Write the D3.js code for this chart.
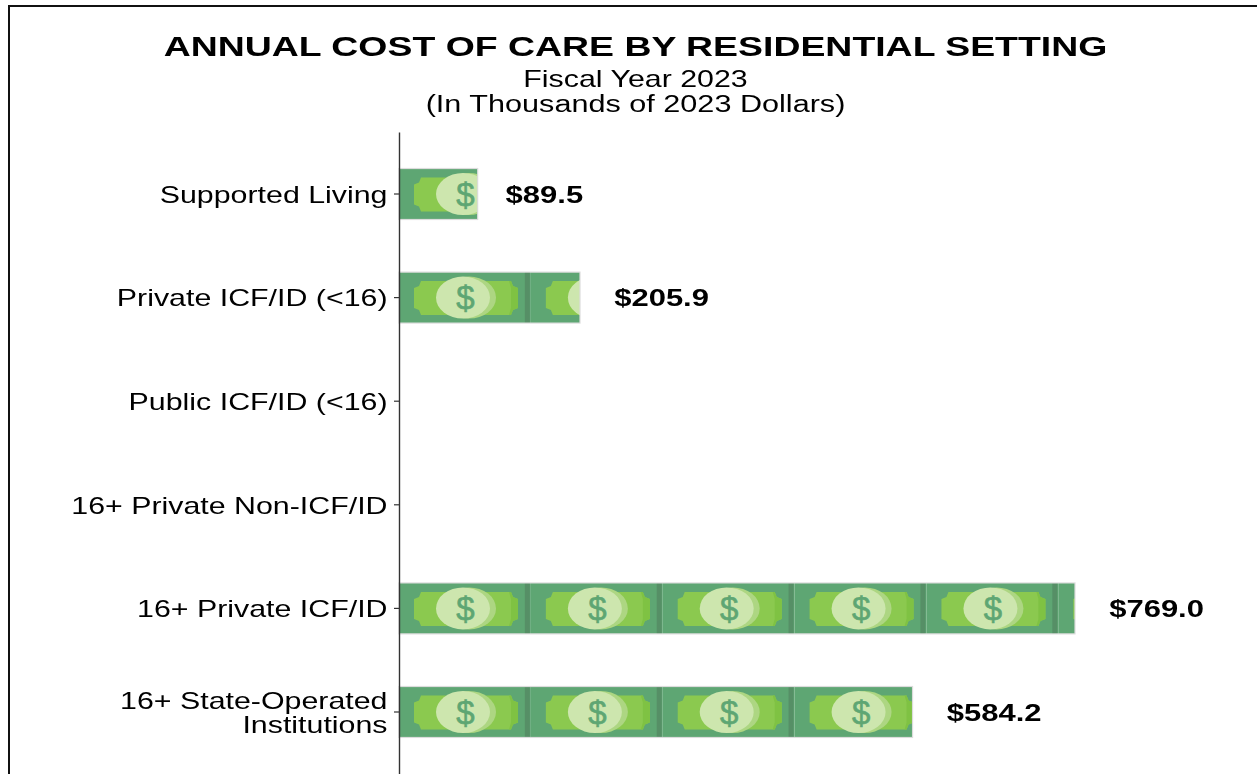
<!DOCTYPE html>
<html>
<head>
<meta charset="utf-8">
<script src="https://cdn.jsdelivr.net/npm/d3@7"></script>
<style>
  html, body { margin: 0; padding: 0; background: #fff; overflow: hidden; }
  svg { filter: blur(0.35px); }
  text { font-family: "Liberation Sans", Arial, sans-serif; fill: #000; }
</style>
</head>
<body>
<div id="chart"></div>
<script>
// data (thousands of 2023 dollars)
const categories = ["Supported Living", "Private ICF/ID (<16)", "Public ICF/ID (<16)",
    "16+ Private Non-ICF/ID", "16+ Private ICF/ID", "16+ State-Operated\nInstitutions"];
const costs = [89.5, 205.9, null, null, 769.0, 584.2];
const billValue = 150; // one bill stands for this many thousands

const pageWidth = 1257, pageHeight = 774;
const stretch = 1.32; // the original image is pulled out sideways, text included

const svg = d3.select("#chart").append("svg")
    .attr("width", pageWidth)
    .attr("height", pageHeight);

// frame of the pasted picture, runs off the right and bottom
svg.append("path")
    .attr("d", `M9,${pageHeight} V6 H${pageWidth}`)
    .attr("fill", "none")
    .attr("stroke", "#111")
    .attr("stroke-width", 2);

// titles
function centred(label, yPos, size, weight) {
    svg.append("text")
        .attr("transform", `translate(635.5,${yPos}) scale(${stretch},1)`)
        .attr("text-anchor", "middle")
        .style("font-size", size + "px")
        .style("font-weight", weight)
        .text(label);
}
centred("ANNUAL COST OF CARE BY RESIDENTIAL SETTING", 56, 28.35, "bold");
centred("Fiscal Year 2023", 86.5, 23, "normal");
centred("(In Thousands of 2023 Dollars)", 111.5, 23.2, "normal");

// scales
const x = d3.scaleLinear().domain([0, 769]).range([399, 1075]);
const y = d3.scaleBand().domain(categories).range([132, 774])
    .paddingInner(0.508).paddingOuter(0.3525);

const billW = x(billValue) - x(0);
const billH = y.bandwidth();

// one bill, drawn once and reused
const defs = svg.append("defs");
const bill = defs.append("g").attr("id", "bill");
bill.append("rect").attr("width", billW).attr("height", billH).attr("fill", "#5ea673");
bill.append("rect").attr("x", billW - 6).attr("width", 5).attr("height", billH).attr("fill", "#568f66");
bill.append("path")
    .attr("d", "M22,9 H112 L114,14 L119,16 V36 L114,38 L112,43 H22 L20,38 L15,36 V16 L20,14 Z")
    .attr("fill", "#8bc94f");
// darker corners on the right end only
bill.append("path")
    .attr("d", "M110,9 H112 L114,14 L119,16 V36 L114,38 L112,43 H110 L112,36 V16 Z")
    .attr("fill", "#7fc243");
bill.append("ellipse").attr("cx", 70).attr("cy", 25.5).attr("rx", 27).attr("ry", 21).attr("fill", "#add682");
bill.append("ellipse").attr("cx", 64).attr("cy", 25.5).attr("rx", 27).attr("ry", 21).attr("fill", "#cde6ae");
bill.append("text").attr("x", 66.5).attr("y", 37)
    .attr("text-anchor", "middle")
    .style("font-size", "33px").style("fill", "#5ea673")
    .style("stroke", "#5ea673").style("stroke-width", 0.6)
    .text("$");

// bars are repeated bills cut off at the value
const rows = categories.map((c, i) => ({category: c, cost: costs[i], id: i}))
    .filter(d => d.cost !== null);

defs.selectAll("clipPath").data(rows).join("clipPath")
    .attr("id", d => "clip" + d.id)
    .append("rect")
    .attr("x", 0).attr("y", 0)
    .attr("width", d => x(d.cost) - x(0)).attr("height", billH);

const bars = svg.selectAll("g.bar").data(rows).join("g")
    .attr("class", "bar")
    .attr("transform", d => `translate(${x(0)},${y(d.category)})`);

bars.append("g")
    .attr("clip-path", d => `url(#clip${d.id})`)
    .selectAll("use")
    .data(d => d3.range(Math.ceil(d.cost / billValue)))
    .join("use")
    .attr("href", "#bill")
    .attr("x", i => x(i * billValue) - x(0));

// thin pale edge round each bar
bars.append("rect")
    .attr("width", d => x(d.cost) - x(0)).attr("height", billH)
    .attr("fill", "none").attr("stroke", "#dcdcdc").attr("stroke-width", 1.2);

// value labels, offset by a share of their own width
svg.selectAll("text.value").data(rows).join("text")
    .attr("class", "value")
    .style("font-size", "23.5px").style("font-weight", "bold")
    .text(d => "$" + d.cost.toFixed(1))
    .attr("transform", function (d) {
        const w = this.getComputedTextLength() * stretch;
        return `translate(${x(d.cost) + w * 0.36},${y(d.category) + billH / 2 + 8.8}) scale(${stretch},1)`;
    });

// y axis
const yAxis = svg.append("g")
    .attr("transform", `translate(${x(0)},0)`)
    .call(d3.axisLeft(y).tickSize(5).tickSizeOuter(0));
yAxis.select(".domain").attr("stroke", "#333").attr("stroke-width", 1.4);
yAxis.selectAll(".tick line").attr("stroke", "#333").attr("stroke-width", 1.2);
yAxis.selectAll(".tick text")
    .style("font-size", "23px").style("font-family", '"Liberation Sans", Arial, sans-serif')
    .attr("fill", "#000")
    .attr("x", null).attr("dy", null)
    .attr("transform", `translate(-11.5,0) scale(${stretch},1)`)
    .each(function (d) {
        const lines = d.split("\n");
        const t = d3.select(this).text(null);
        lines.forEach((line, i) => {
            t.append("tspan").attr("x", 0)
                .attr("y", (i - (lines.length - 1) / 2) * 23.5 + 8.8)
                .text(line);
        });
    });
</script>
</body>
</html>
